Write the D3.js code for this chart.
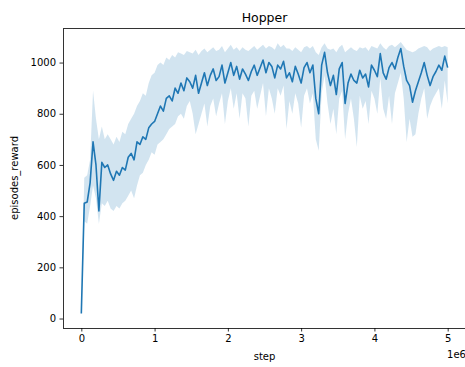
<!DOCTYPE html>
<html><head><meta charset="utf-8">
<script src="https://cdn.jsdelivr.net/npm/d3@7"></script>
<style>body{margin:0;background:#fff}svg{display:block}text{font-family:"DejaVu Sans",sans-serif;fill:#000}</style>
</head><body>
<svg id="c" width="465" height="367"></svg>
<script>
const stepSize = 40000;
const meanReward = [20,450,455,530,690,600,420,610,590,600,565,540,575,560,590,580,630,645,620,690,680,710,700,745,760,770,800,830,810,860,870,850,900,880,920,890,940,925,900,950,880,920,960,910,950,975,930,945,990,920,960,1000,950,985,935,975,955,930,965,990,950,980,1010,960,1000,985,940,990,975,1005,940,960,925,985,955,920,980,1000,960,990,860,800,990,1040,960,910,950,875,975,1000,840,920,955,930,920,970,940,955,905,990,970,945,1035,960,935,980,1000,975,1020,1055,985,930,910,845,890,925,960,1000,950,910,945,965,990,970,1025,980];
const lowerReward = [20,380,370,440,520,470,370,450,440,460,430,420,440,430,450,460,480,500,470,520,560,570,600,620,650,640,680,690,700,720,740,750,760,790,800,780,830,850,800,720,760,800,840,750,830,860,790,840,880,760,850,900,820,880,780,880,860,750,870,890,820,870,920,790,900,860,800,900,870,910,740,850,800,880,840,745,870,900,840,880,700,655,880,950,840,760,820,720,860,890,700,800,860,780,670,870,820,850,760,890,860,800,940,820,780,870,760,880,920,960,860,690,780,710,720,800,860,900,780,830,860,880,900,820,930,840];
const upperReward = [20,550,560,620,890,780,700,750,700,720,700,680,710,690,730,720,760,780,800,830,850,880,870,920,950,960,990,1000,990,1020,1010,1030,1020,1040,1035,1030,1045,1040,1035,1050,1030,1045,1055,1040,1050,1060,1045,1050,1065,1040,1055,1070,1050,1060,1045,1060,1050,1045,1055,1065,1050,1060,1070,1055,1065,1060,1050,1075,1060,1070,1055,1055,1045,1060,1050,1040,1060,1065,1055,1065,1040,1030,1060,1075,1055,1050,1055,1040,1060,1070,1040,1050,1060,1050,1045,1060,1055,1060,1045,1065,1060,1055,1075,1060,1050,1065,1070,1060,1070,1080,1065,1050,1045,1040,1045,1055,1060,1065,1060,1045,1055,1060,1065,1060,1065,1060];
const xTicks = [0,1e6,2e6,3e6,4e6,5e6];
const xTickLabels = ["0","1","2","3","4","5"];
const yTicks = [0,200,400,600,800,1000];

const data = meanReward.map((m,i)=>({step:i*stepSize, mean:m, lo:lowerReward[i], hi:upperReward[i]}));

const svg = d3.select("#c");
const L=63, R=466, T=28, B=328;
const x = d3.scaleLinear().domain([-0.25e6, 5.25e6]).range([L,R]);
const y = d3.scaleLinear().domain([-37, 1135]).range([B,T]);

svg.append("path").datum(data)
  .attr("fill","#1f77b4").attr("fill-opacity",0.2).attr("stroke","none")
  .attr("d", d3.area().x(d=>x(d.step)).y0(d=>y(d.lo)).y1(d=>y(d.hi)));
svg.append("path").datum(data)
  .attr("fill","none").attr("stroke","#1f77b4").attr("stroke-width",1.6).attr("stroke-linejoin","round")
  .attr("d", d3.line().x(d=>x(d.step)).y(d=>y(d.mean)));

const xAxis = svg.append("g").attr("transform",`translate(0,${B})`)
  .call(d3.axisBottom(x).tickValues(xTicks).tickFormat((d,i)=>xTickLabels[i]).tickSize(3.5).tickPadding(3.5));
const yAxis = svg.append("g").attr("transform",`translate(${L},0)`)
  .call(d3.axisLeft(y).tickValues(yTicks).tickFormat(d3.format("d")).tickSize(3.5).tickPadding(3.5));
[xAxis,yAxis].forEach(g=>{
  g.select(".domain").remove();
  g.selectAll("line").attr("stroke","#000").attr("stroke-width",0.8);
  g.selectAll("text").attr("font-size",10).attr("font-family","DejaVu Sans").attr("fill","#000");
});
// spines
svg.append("rect").attr("x",L).attr("y",T).attr("width",R-L).attr("height",B-T)
  .attr("fill","none").attr("stroke","#000").attr("stroke-width",0.8).attr("shape-rendering","crispEdges");

svg.append("text").attr("x",(L+R)/2).attr("y",T-6).attr("text-anchor","middle").attr("font-size",12.5).text("Hopper");
svg.append("text").attr("x",(L+R)/2).attr("y",360).attr("text-anchor","middle").attr("font-size",10).text("step");
svg.append("text").attr("transform",`translate(18,${(T+B)/2}) rotate(-90)`).attr("text-anchor","middle").attr("font-size",10).text("episodes_reward");
svg.append("text").attr("x",R).attr("y",358).attr("text-anchor","end").attr("font-size",10).text("1e6");
</script>
</body></html>
